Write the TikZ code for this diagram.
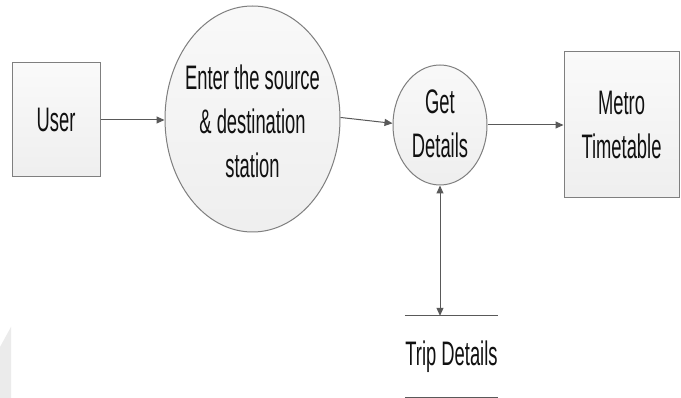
\documentclass[tikz,border=0pt]{standalone}
\usepackage{fontspec}
\setmainfont[FakeStretch=0.54]{Liberation Sans}
\usetikzlibrary{shapes.geometric,arrows.meta}

\definecolor{edge}{HTML}{7F7F7F}
\definecolor{wire}{HTML}{595959}
\definecolor{ink}{HTML}{111111}

\tikzset{
  entity/.style={rectangle, draw=edge, line width=1pt, top color=gray!4, bottom color=gray!13,
                 inner sep=0pt, align=center, text=ink},
  proc/.style={ellipse, draw=edge, line width=1pt, top color=gray!5, bottom color=gray!13,
               inner sep=0pt},
  lbl/.style={align=center, text=ink, inner sep=0pt},
  store/.style={inner sep=0pt, text=ink},
  flow/.style={draw=wire, line width=1pt, -{Triangle[length=8pt,width=7pt]}},
  both/.style={draw=wire, line width=1pt, {Triangle[length=8pt,width=7pt]}-{Triangle[length=8pt,width=7pt]}},
  rule/.style={draw=wire, line width=1.2pt}
}

\begin{document}
\begin{tikzpicture}[x=1pt, y=-1pt, font=\fontsize{34}{44}\selectfont]
\useasboundingbox[fill=white] (0,0) rectangle (681,398);

% faint corner mark
\fill[gray!16] (0,347) -- (11,327) -- (11,398) -- (0,398) -- cycle;

% external entities
\node[entity, minimum width=88pt, minimum height=114pt] (user) at (56,120) {User};
\node[entity, minimum width=115pt, minimum height=146pt] (metro) at (621.5,125) {Metro\\Timetable};

% processes
\node[proc, minimum width=175pt, minimum height=226pt] (enter) at (252.5,119) {};
\node[lbl] (enterlbl) at (252.5,121) {Enter the source\\\& destination\\station};
\node[proc, minimum width=94pt, minimum height=120pt] (getd) at (440,125) {};
\node[lbl] (getlbl) at (440,124) {Get\\Details};

% data store
\node[store, minimum width=93pt, minimum height=81pt] (trip) at (451.5,356.5) {Trip Details};
\draw[rule] (trip.north west) -- (trip.north east);
\draw[rule] (trip.south west) -- (trip.south east);

% data flows
\draw[flow] (user.east) -- (user.east -| enter.west);
\draw[flow] (enter.1) -- (getd.178);
\draw[flow] (getd.east) -- (getd.east -| metro.west);
\draw[both] (getd.south) -- (getd.south |- trip.north);
\end{tikzpicture}
\end{document}
